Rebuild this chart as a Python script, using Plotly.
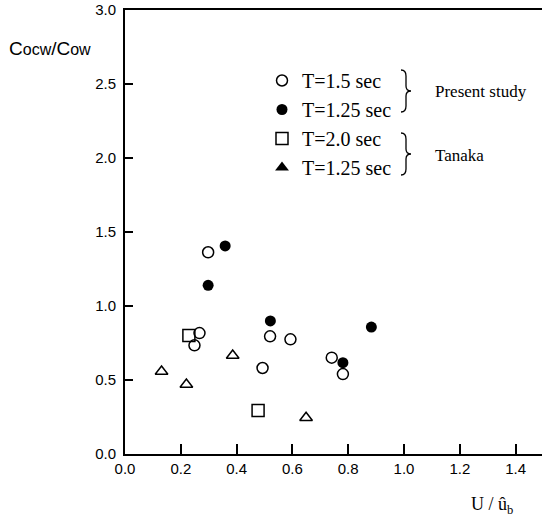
import plotly.graph_objects as go

# ---- data ----
open_x = [0.298, 0.267, 0.249, 0.520, 0.593, 0.493, 0.741, 0.781]
open_y = [1.363, 0.817, 0.734, 0.795, 0.775, 0.581, 0.651, 0.540]

filled_x = [0.359, 0.298, 0.521, 0.883, 0.781]
filled_y = [1.406, 1.140, 0.899, 0.858, 0.617]

square_x = [0.229, 0.477]
square_y = [0.800, 0.294]

tri_x = [0.131, 0.220, 0.386, 0.649]
tri_y = [0.558, 0.470, 0.666, 0.245]

x_ticks = [0.0, 0.2, 0.4, 0.6, 0.8, 1.0, 1.2, 1.4]
y_ticks = [0.0, 0.5, 1.0, 1.5, 2.0, 2.5, 3.0]

legend_names = ["T=1.5 sec", "T=1.25 sec", "T=2.0 sec", "T=1.25 sec"]
group_labels = ["Present study", "Tanaka"]

# ---- layout geometry (pixels) ----
W, H = 542, 517
L, R, T, B = 125, 0, 10, 63
PW, PH = W - L - R, H - T - B


def px(xp):
    return (xp - L) / PW


def py(yp):
    return (H - B - yp) / PH


SERIF = "Liberation Serif"
SANS = "Liberation Sans"

fig = go.Figure()
fig.add_trace(go.Scatter(x=open_x, y=open_y, mode="markers", name=legend_names[0],
                         marker=dict(symbol="circle-open", size=11, color="black",
                                     line=dict(width=1.5, color="black"))))
fig.add_trace(go.Scatter(x=filled_x, y=filled_y, mode="markers", name=legend_names[1],
                         marker=dict(symbol="circle", size=11, color="black")))
fig.add_trace(go.Scatter(x=square_x, y=square_y, mode="markers", name=legend_names[2],
                         marker=dict(symbol="square-open", size=12, color="black",
                                     line=dict(width=1.5, color="black"))))
fig.add_trace(go.Scatter(x=tri_x, y=tri_y, mode="markers", name=legend_names[3],
                         showlegend=False,
                         marker=dict(symbol="triangle-up-open", size=11, color="black",
                                     line=dict(width=1.5, color="black"))))
# legend entry for Tanaka T=1.25 (filled triangle in the key)
fig.add_trace(go.Scatter(x=[None], y=[None], mode="markers", name=legend_names[3],
                         marker=dict(symbol="triangle-up", size=12, color="black")))


def brace(top, bottom, x0=401, x1=406, tip=411):
    mid = (top + bottom) / 2
    pts = (f"M {px(x0)},{py(top)} Q {px(x1)},{py(top)} {px(x1)},{py(top+6)} "
           f"L {px(x1)},{py(mid-5)} Q {px(x1)},{py(mid)} {px(tip)},{py(mid)} "
           f"Q {px(x1)},{py(mid)} {px(x1)},{py(mid+5)} "
           f"L {px(x1)},{py(bottom-6)} Q {px(x1)},{py(bottom)} {px(x0)},{py(bottom)}")
    return dict(type="path", xref="paper", yref="paper", path=pts,
                line=dict(color="black", width=1.3))


annotations = [
    dict(x=px(433), y=py(91), xref="paper", yref="paper", text=group_labels[0],
         showarrow=False, xanchor="left", yanchor="middle",
         font=dict(family=SERIF, size=17, color="black")),
    dict(x=px(433), y=py(155), xref="paper", yref="paper", text=group_labels[1],
         showarrow=False, xanchor="left", yanchor="middle",
         font=dict(family=SERIF, size=17, color="black")),
    dict(x=px(7), y=py(49), xref="paper", yref="paper",
         text="C<span style='font-size:16px'>ocw</span>/C<span style='font-size:16px'>ow</span>",
         showarrow=False, xanchor="left", yanchor="middle",
         font=dict(family=SANS, size=19, color="black")),
    dict(x=px(492), y=py(506), xref="paper", yref="paper",
         text="U / û<sub>b</sub>",
         showarrow=False, xanchor="center", yanchor="middle",
         font=dict(family=SERIF, size=18, color="black")),
]

fig.update_layout(
    width=W, height=H,
    margin=dict(l=L, r=R, t=T, b=B),
    paper_bgcolor="white", plot_bgcolor="white",
    shapes=[brace(70, 112), brace(133, 175)],
    annotations=annotations,
    showlegend=True,
    legend=dict(x=px(262), y=py(61), xanchor="left", yanchor="top",
                font=dict(family=SERIF, size=20, color="black"),
                bgcolor="rgba(0,0,0,0)", borderwidth=0, tracegroupgap=0,
                itemwidth=30),
    xaxis=dict(range=[0, PW / 279.0], tickvals=x_ticks,
               ticktext=[f"{v:.1f}" for v in x_ticks],
               showgrid=False, zeroline=False, showline=True, linecolor="black",
               linewidth=2, mirror=True, ticks="inside", ticklen=10, tickwidth=1.5,
               tickcolor="black",
               tickfont=dict(family=SANS, size=15, color="black")),
    yaxis=dict(range=[0, 3.0], tickvals=y_ticks,
               ticktext=[f"{v:.1f}" for v in y_ticks],
               showgrid=False, zeroline=False, showline=True, linecolor="black",
               linewidth=2, ticks="inside", ticklen=8, tickwidth=1.5,
               tickcolor="black", ticklabelstandoff=4,
               tickfont=dict(family=SANS, size=15, color="black")),
)

fig.write_html("out.html", config={"displayModeBar": False},
               post_script="document.body.style.margin='0';")
